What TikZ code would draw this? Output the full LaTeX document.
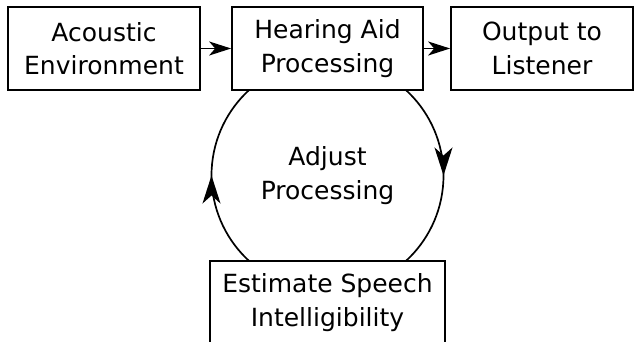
\documentclass[tikz,border=0pt]{standalone}
\usepackage{fontspec}
\setmainfont{DejaVu Sans}
\usetikzlibrary{arrows.meta,decorations.markings}
\begin{document}
\begin{tikzpicture}[x=1pt,y=1pt,line width=1.7pt,>={Stealth[length=22pt,width=14pt,inset=6pt]}]
  \tikzstyle{block}=[draw,fill=white,rectangle,align=center,inner sep=0pt,minimum height=83pt,font=\fontsize{25}{33.5}\selectfont]
  \tikzstyle{loopmark}=[postaction={decorate,decoration={markings,
      mark=at position 0.25 with {\arrow{Stealth[length=28pt,width=18pt,inset=8pt]}},
      mark=at position 0.75 with {\arrow{Stealth[length=28pt,width=18pt,inset=8pt]}}}}]
  \def\yup{293.5}	% centre line of top row
  \def\rc{116}	% radius of adjust loop
  \useasboundingbox (0,0) rectangle (635,342);
  % loop first, the blocks hide its ends
  \node[font=\fontsize{25}{33.5}\selectfont,align=center] (adj) at (327.5,166.5) {Adjust\\Processing};
  \draw[loopmark] (adj.center) ++(90:\rc) arc[start angle=90,delta angle=-360,radius=\rc];

  \node[block,minimum width=192pt] (env) at (104,\yup) {Acoustic\\Environment};
  \node[block,minimum width=191pt] (hap) at (327.5,\yup) {Hearing Aid\\Processing};
  \node[block,minimum width=182pt] (out) at (542,\yup) {Output to\\Listener};
  \node[block,minimum width=235pt] (esi) at (327.5,39.5) {Estimate Speech\\Intelligibility};

  \draw[->] (env) -- (hap);
  \draw[->] (hap) -- (out);
\end{tikzpicture}
\end{document}
